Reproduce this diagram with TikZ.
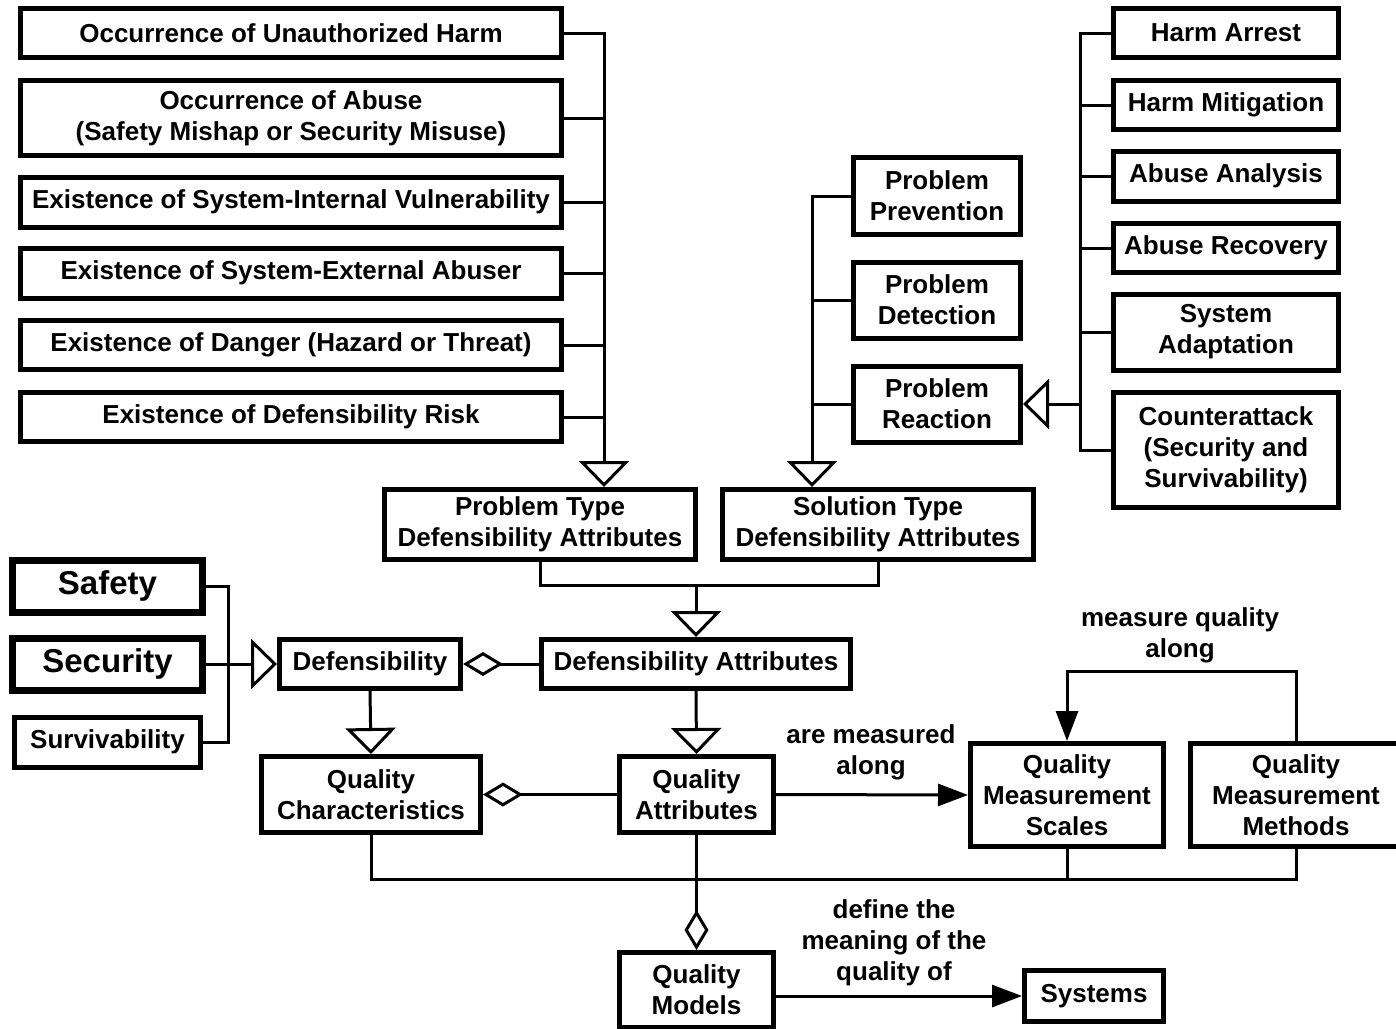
\documentclass[tikz,border=0pt]{standalone}
\usepackage{fontspec}
\setmainfont{Liberation Sans}
\usetikzlibrary{arrows.meta}

\tikzset{
  box/.style={draw, line width=5pt, inner sep=0pt, align=center, fill=white,
    font=\bfseries\fontsize{26}{31}\selectfont},
  bigbox/.style={box, line width=7pt, font=\bfseries\fontsize{33}{38}\selectfont},
  sz/.style 2 args={minimum width=#1pt-5pt, minimum height=#2pt-5pt},
  lbl/.style={align=center, inner sep=0pt, font=\bfseries\fontsize{26}{31}\selectfont},
  conn/.style={line width=3pt},
  gen/.style={conn, -{Triangle[open, length=26pt, width=50pt]}},
  agg/.style={conn, -{Diamond[open, length=40pt, width=24pt]}},
  arr/.style={conn, -{Triangle[length=30pt, width=22pt]}},
}

\begin{document}
\begin{tikzpicture}[x=1pt, y=-1pt]
\useasboundingbox (0,0) rectangle (1396,1028);

% problem type attributes
\node[box, sz={546}{54}] (occ1) at (291,33) {Occurrence of Unauthorized Harm};
\node[box, sz={546}{80}] (occ2) at (291,118) {Occurrence of Abuse\\(Safety Mishap or Security Misuse)};
\node[box, sz={546}{55}] (occ3) at (291,202) {Existence of System-Internal Vulnerability};
\node[box, sz={546}{55}] (occ4) at (291,273) {Existence of System-External Abuser};
\node[box, sz={546}{54}] (occ5) at (291,345) {Existence of Danger (Hazard or Threat)};
\node[box, sz={546}{54}] (occ6) at (291,417) {Existence of Defensibility Risk};

% solution type attributes
\node[box, sz={172}{82}] (pp) at (937,196) {Problem\\Prevention};
\node[box, sz={172}{81}] (pd) at (937,300) {Problem\\Detection};
\node[box, sz={172}{81}] (pr) at (937,404) {Problem\\Reaction};

\node[box, sz={230}{54}] (ha) at (1226,33) {Harm Arrest};
\node[box, sz={230}{54}] (hm) at (1226,105) {Harm Mitigation};
\node[box, sz={230}{55}] (aa) at (1226,176) {Abuse Analysis};
\node[box, sz={230}{54}] (ar) at (1226,248) {Abuse Recovery};
\node[box, sz={230}{81}] (sa) at (1226,332) {System\\Adaptation};
\node[box, sz={230}{120}] (ca) at (1226,450) {Counterattack\\(Security and\\Survivability)};

\node[box, sz={316}{75}] (pt) at (540,524.5) {Problem Type\\Defensibility Attributes};
\node[box, sz={316}{75}] (st) at (878,524.5) {Solution Type\\Defensibility Attributes};

% defensibility and its kinds
\node[bigbox, sz={195}{57}] (saf) at (107.5,586) {Safety};
\node[bigbox, sz={195}{57}] (sec) at (107.5,664) {Security};
\node[box, sz={191}{55}] (surv) at (107.5,742) {Survivability};
\node[box, sz={186}{54}] (def) at (370,664) {Defensibility};
\node[box, sz={314}{54}] (da) at (696,664) {Defensibility Attributes};

% quality model
\node[box, sz={224}{81}] (qc) at (371,794.5) {Quality\\Characteristics};
\node[box, sz={159}{81}] (qa) at (696.5,794.5) {Quality\\Attributes};
\node[box, sz={198}{108}] (qms) at (1067,795) {Quality\\Measurement\\Scales};
\node[box, sz={216}{108}] (qmm) at (1296,795) {Quality\\Measurement\\Methods};
\node[box, sz={159}{80}] (qm) at (696.5,990) {Quality\\Models};
\node[box, sz={144}{56}] (sys) at (1094,996) {Systems};

% association labels
\node[lbl] (lmeas) at (871,752) {are measured\\along};
\node[lbl] (lalong) at (1180,635) {measure quality\\along};
\node[lbl] (ldef) at (894,943) {define the\\meaning of the\\quality of};

% junction points
\coordinate (ptin) at (604,487);
\coordinate (stin) at (812,487);
\coordinate (rbus) at (1080,404);
\coordinate (pjoin) at (696,585);
\coordinate (sbus) at (228,664);
\coordinate (bbus) at (696,879);
\coordinate (qtop) at (1180,671);

% problem type generalization
\draw[gen] (occ1.east) -| (ptin);
\foreach \n in {occ2,occ3,occ4,occ5,occ6}
  \draw[conn] (\n.east) -- (\n.east -| ptin);

% solution type generalization
\draw[gen] (pp.west) -| (stin);
\foreach \n in {pd,pr}
  \draw[conn] (\n.west) -- (\n.west -| stin);

% problem reaction generalization
\draw[conn] (ha.west) -- (ha.west -| rbus) -- (ca.west -| rbus) -- (ca.west);
\foreach \n in {hm,aa,ar,sa}
  \draw[conn] (\n.west) -- (\n.west -| rbus);
\draw[gen] (rbus) -- (pr.east);

% defensibility attributes
\draw[conn] (pt.south) |- (pjoin) -| (st.south);
\draw[gen] (pjoin) -- (da.north);

% defensibility kinds
\draw[conn] (saf.east) -| (sbus) |- (surv.east);
\draw[gen] (sec.east) -- (def.west);
\draw[agg] (da.west) -- (def.east);

% quality characteristics and attributes
\draw[gen] (def.south) -- (qc.north);
\draw[gen] (da.south) -- (qa.north);
\draw[agg] (qa.west) -- (qc.east);
\draw[arr] (qa.east) -- (qms.west);
\draw[arr] (qmm.north) |- (qtop) -| (qms.north);

% quality models
\draw[conn] (qc.south) |- (bbus) -| (qmm.south);
\draw[conn] (qms.south) -- (qms.south |- bbus);
\draw[agg] (qa.south) -- (qm.north);
\draw[arr] (sys.west -| qm.east) -- (sys.west);
\end{tikzpicture}
\end{document}
